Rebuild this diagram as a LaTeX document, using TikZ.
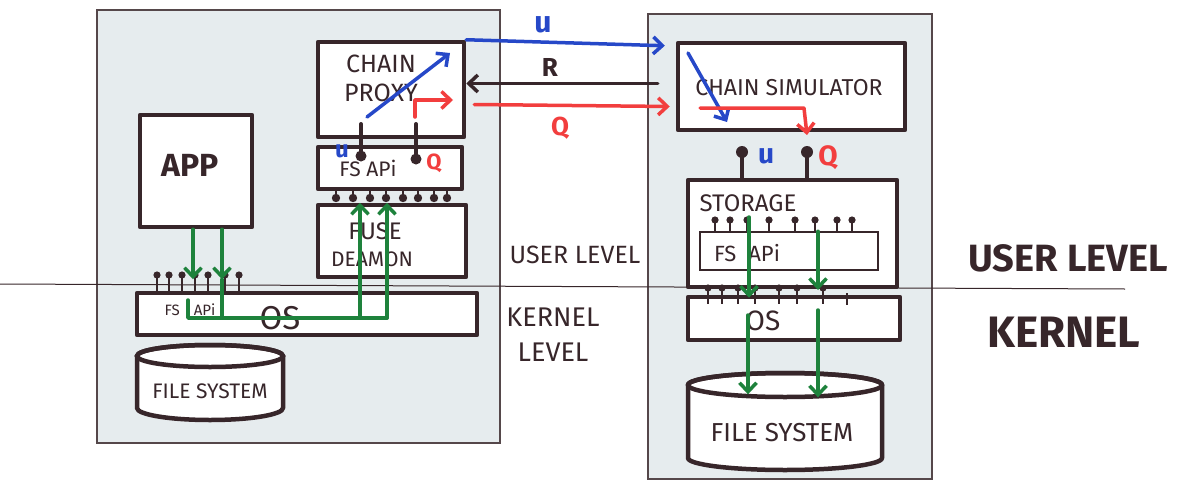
\documentclass[tikz,border=0pt]{standalone}
\usepackage{fontspec}
\setmainfont{Fira Sans}
\usetikzlibrary{arrows.meta}
\newcommand\pensize[1]{\fontsize{#1}{#1}\selectfont}
\definecolor{ink}{RGB}{55,38,42}
\definecolor{penblue}{RGB}{38,72,200}
\definecolor{penred}{RGB}{242,62,62}
\definecolor{pengreen}{RGB}{30,130,60}
\definecolor{paper}{RGB}{230,236,238}
\tikzset{
  panel/.style={draw=ink!85, line width=1.3pt, fill=paper, inner sep=0pt},
  box/.style={draw=ink, line width=4.5pt, fill=white, inner sep=0pt, line join=round},
  thinbox/.style={draw=ink, line width=1.5pt, fill=white, inner sep=0pt},
  txt/.style={text=ink, inner sep=0pt},
  barb/.style={-{Straight Barb[length=9pt,width=17pt]}},
  flow/.style={line width=3.5pt, line cap=round, line join=round, barb},
  plain/.style={line width=3.5pt, line cap=round, line join=round},
  stem/.style={draw=ink, line width=1.5pt},
  bigstem/.style={draw=ink, line width=4pt, line cap=round},
}
\begin{document}
\begin{tikzpicture}[x=1pt,y=-1pt]
\useasboundingbox (0,0) rectangle (1178,482);

% machines
\node[panel, minimum width=403pt, minimum height=433pt] (hostL) at (298.5,226.5) {};
\node[panel, minimum width=284pt, minimum height=465pt] (hostR) at (790,246.5) {};

% user / kernel divider
\draw[ink, line width=1pt] (0,284) -- (1125,289);

% ---- left machine ----
\node[box, minimum width=112pt, minimum height=112pt] (app) at (196,171) {};
\node[box, minimum width=146pt, minimum height=95pt] (proxy) at (391,89.5) {};
\node[box, minimum width=144pt, minimum height=42pt] (fsapiL) at (390,168) {};
\node[box, minimum width=148pt, minimum height=72pt] (fuse) at (392,241) {};
\node[box, minimum width=340pt, minimum height=42pt] (osL) at (307,314) {};

% left file system drum
\filldraw[ink, line width=4.5pt, fill=white, line join=round]
  (137,356) -- (137,408) arc[start angle=180, end angle=0, x radius=73, y radius=12]
  -- (283,356) arc[start angle=0, end angle=-180, x radius=73, y radius=11] -- cycle;
\draw[ink, line width=4.5pt] (210,356) ellipse [x radius=73, y radius=11];
\node[inner sep=0pt, minimum width=146pt, minimum height=75pt] (diskL) at (210,383) {};

\node[txt, font=\pensize{32}\bfseries] at (190,165) {APP};
\node[txt, font=\pensize{25}] at (381,64) {CHAIN};
\node[txt, font=\pensize{25}] at (381,93) {PROXY};
\node[txt, font=\pensize{21}] at (368,168) {FS APi};
\node[txt, font=\pensize{24}] at (375,231) {FUSE};
\node[txt, font=\pensize{21}] at (372,259) {DEAMON};
\node[txt, font=\pensize{15}] at (190,310) {FS\hspace{14pt}APi};
\node[txt, font=\pensize{33}] at (280,318) {OS};
\node[txt, font=\pensize{21}] at (210,391) {FILE SYSTEM};

% pins from the proxy into its FS API
\coordinate (pinU) at (361,156);
\coordinate (pinQ) at (416,159);
\draw[bigstem] (pinU |- 0,124) -- (pinU);
\draw[bigstem] (pinQ |- 0,124) -- (pinQ);
\fill[ink] (pinU) circle (5.5);
\fill[ink] (pinQ) circle (5.5);
\node[text=penblue, font=\pensize{24}\bfseries, inner sep=0pt] at (342,151) {u};
\node[text=penred, font=\pensize{22}\bfseries, inner sep=0pt] at (434,163) {Q};

% FS API pins towards the FUSE daemon
\foreach \x in {336,353,370,386,403,418,434,447} {
  \draw[stem, line width=2pt] (\x,189) -- (\x,198);
  \fill[ink] (\x,198) circle (4.2);
}

% OS FS API pins
\foreach \x in {157,169,182,195,208,225,239} {
  \draw[stem] (\x,275) -- (\x,293);
  \fill[ink] (\x,275) circle (3.6);
}

% proxy internals
\coordinate (pxA) at (367,117);
\coordinate (pxB) at (450,53);
\draw[flow, penblue] (pxA) -- (pxB);
\coordinate (pxC) at (415,117);
\coordinate (pxD) at (453,100);
\draw[flow, penred] (pxC) -- (pxC |- pxD) -- (pxD);

% app calls through the kernel to the FUSE daemon
\draw[flow, pengreen] ([xshift=-3pt]app.south) -- ++(0,50);
\draw[flow, pengreen] ([xshift=26pt]app.south) -- ++(0,50) coordinate (appTip);
\coordinate (kJoin) at (222,318);
\draw[plain, pengreen] (appTip) -- (kJoin);
\draw[plain, pengreen] (188,300) -- (188,318) -- (387,318);
\draw[flow, pengreen] (360,318) -- ([xshift=-32pt]fuse.north);
\draw[flow, pengreen] (387,318) -- ([xshift=-5pt]fuse.north);

% level labels
\node[txt, font=\pensize{25}] at (575,255) {USER LEVEL};
\node[txt, font=\pensize{27}] at (553,317) {KERNEL};
\node[txt, font=\pensize{27}] at (553,352) {LEVEL};
\node[txt, font=\pensize{38}\bfseries] at (1068,258) {USER LEVEL};
\node[txt, font=\pensize{44}\bfseries] at (1064,332) {KERNEL};

% ---- right machine ----
\node[box, minimum width=227pt, minimum height=87pt] (sim) at (791.5,86.5) {};
\node[box, minimum width=209pt, minimum height=107pt] (storage) at (792.5,233.5) {};
\node[thinbox, minimum width=178pt, minimum height=38pt] (fsapiR) at (789,251) {};
\node[box, minimum width=212pt, minimum height=43pt] (osR) at (794,318.5) {};

\filldraw[ink, line width=4.5pt, fill=white, line join=round]
  (688,385) -- (688,458) arc[start angle=180, end angle=0, x radius=97, y radius=12]
  -- (882,385) arc[start angle=0, end angle=-180, x radius=97, y radius=12] -- cycle;
\draw[ink, line width=4.5pt] (785,385) ellipse [x radius=97, y radius=12];
\node[inner sep=0pt, minimum width=194pt, minimum height=97pt] (diskR) at (785,421) {};

\node[txt, font=\pensize{23}] at (789,88) {CHAIN SIMULATOR};
\node[txt, font=\pensize{24}] at (748,203) {STORAGE};
\node[txt, font=\pensize{22}] at (747,253) {FS\hspace{12pt}APi};
\node[txt, font=\pensize{28}] at (763,321) {OS};
\node[txt, font=\pensize{26}] at (782,433) {FILE SYSTEM};

% storage pins
\coordinate (spU) at (742,152);
\coordinate (spQ) at (807,152);
\draw[bigstem] (spU) -- (spU |- storage.north);
\draw[bigstem] (spQ) -- (spQ |- storage.north);
\fill[ink] (spU) circle (6);
\fill[ink] (spQ) circle (6);
\node[text=penblue, font=\pensize{28}\bfseries, inner sep=0pt] at (766,156) {u};
\node[text=penred, font=\pensize{28}\bfseries, inner sep=0pt] at (828,158) {Q};

% storage FS API pins
\foreach \x in {715,730,747,769,795,815,837,852} {
  \draw[stem] (\x,220) -- (\x,232);
  \fill[ink] (\x,220) circle (3.6);
}
% OS pins
\foreach \x in {708,722,738,755,779,797,823} {
  \draw[stem] (\x,288) -- (\x,304);
  \fill[ink] (\x,288) circle (3.6);
}
\draw[stem] (847,293) -- (847,305);

% simulator internals
\coordinate (smA) at (688,53);
\coordinate (smB) at (727,122);
\draw[flow, penblue] (smA) -- (smB);
\coordinate (smC) at (700,108);
\coordinate (smD) at (804,108);
\coordinate (smE) at (807,135);
\draw[flow, penred] (smC) -- (smD) -- (smE);

% storage writes down to the disk
\draw[flow, pengreen] (749,217) -- ([xshift=-45pt,yshift=-3pt]osR.north);
\draw[flow, pengreen] ([xshift=29pt]fsapiR.north) -- (818,290);
\draw[flow, pengreen] (748,315) -- ([xshift=-37pt,yshift=-22pt]diskR.north);
\draw[flow, pengreen] (818,310) -- ([xshift=33pt,yshift=-25pt]diskR.north);

% messages between proxy and simulator
\draw[flow, penblue] (proxy.north east) -- ([xshift=-11pt,yshift=-5pt]sim.north west);
\draw[flow, ink] ([xshift=-18pt,yshift=3pt]sim.west) -- ([yshift=6pt]proxy.east);
\draw[flow, penred] ([xshift=8pt,yshift=-15pt]proxy.east) -- ([xshift=-6pt,yshift=-20pt]sim.west);
\node[text=penblue, font=\pensize{30}\bfseries, inner sep=0pt] at (543,25) {u};
\node[txt, font=\pensize{26}\bfseries] at (550,67) {R};
\node[text=penred, font=\pensize{26}\bfseries, inner sep=0pt] at (560,128) {Q};
\end{tikzpicture}
\end{document}
